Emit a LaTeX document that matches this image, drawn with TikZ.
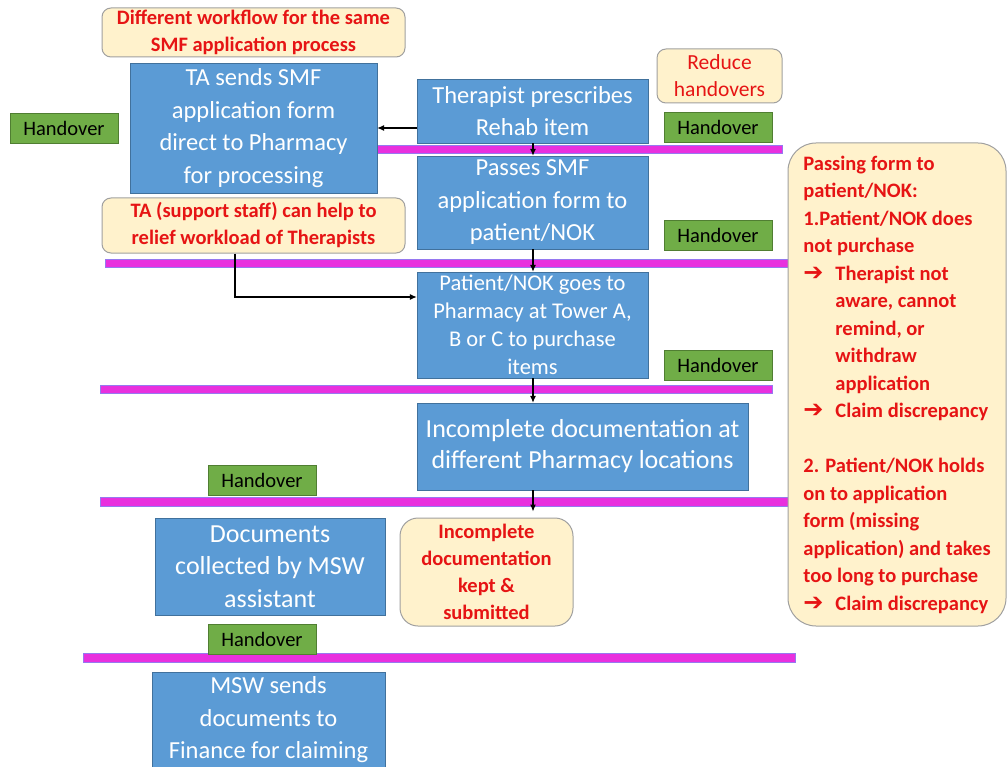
\documentclass[tikz,border=0pt]{standalone}
\usepackage{fontspec}
\setmainfont{Carlito}
\newfontfamily\arrowfont{DejaVu Sans}
\usetikzlibrary{arrows.meta,positioning,calc}
\definecolor{procblue}{RGB}{91,155,213}
\definecolor{procedge}{RGB}{65,113,156}
\definecolor{notefill}{RGB}{255,242,204}
\definecolor{noteedge}{RGB}{160,160,160}
\definecolor{hoverfill}{RGB}{112,173,71}
\definecolor{hoveredge}{RGB}{80,126,50}
\definecolor{barfill}{RGB}{232,48,222}
\definecolor{baredge}{RGB}{150,120,240}
\definecolor{notered}{RGB}{230,20,20}
\newcommand{\pointer}{\makebox[32pt][l]{\arrowfont\fontsize{24}{24}\selectfont ➔}}
\newcommand{\hang}{\hspace*{32pt}}

\begin{document}
\begin{tikzpicture}[x=1pt,y=-1pt,
  proc/.style={draw=procedge,fill=procblue,text=white,align=center,inner sep=0pt,
    font=\fontsize{24.5}{32.5}\selectfont},
  note/.style={draw=noteedge,fill=notefill,text=notered,rounded corners=9pt,align=center,
    inner sep=0pt,line width=1pt,font=\bfseries\fontsize{20.5}{27}\selectfont},
  hover/.style={draw=hoveredge,fill=hoverfill,minimum width=108pt,minimum height=30pt,
    inner sep=0pt,line width=0.8pt,font=\fontsize{20.5}{22}\selectfont},
  bar/.style={draw=baredge,fill=barfill,line width=0.6pt},
  flow/.style={-{Latex[length=7pt,width=6pt]},line width=1.1pt}]
  \useasboundingbox (0,0) rectangle (1008,767);
  \coordinate (spine) at (533,0);

  % handover bars
  \draw[bar] (377,145) rectangle (782,153);
  \draw[bar] (105,259) rectangle (790,267);
  \draw[bar] (100,385) rectangle (772,393);
  \draw[bar] (100,497) rectangle (790,506);
  \draw[bar] (83,653) rectangle (795,662);

  % process steps
  \node[proc,minimum width=247pt,minimum height=130pt] (ta) at (253.5,128)
    {TA sends SMF\\application form\\direct to Pharmacy\\for processing};
  \node[proc,minimum width=231pt,minimum height=64pt] (ther) at (532.5,111)
    {Therapist prescribes\\Rehab item};
  \node[proc,minimum width=231pt,minimum height=93pt] (pass) at (532.5,202.5)
    {Passes SMF\\application form to\\patient/NOK};
  \node[proc,minimum width=231pt,minimum height=106pt,font=\fontsize{22.5}{28}\selectfont] (pat) at (532.5,325)
    {Patient/NOK goes to\\Pharmacy at Tower A,\\B or C to purchase\\items};
  \node[proc,minimum width=331pt,minimum height=87pt,font=\fontsize{26}{31}\selectfont] (incdoc) at (582.5,446.5)
    {Incomplete documentation at\\different Pharmacy locations};
  \node[proc,minimum width=230pt,minimum height=97pt,font=\fontsize{26}{32.5}\selectfont] (coll) at (270,566.5)
    {Documents\\collected by MSW\\assistant};
  \node[proc,minimum width=233pt,minimum height=96pt] (msw) at (268.5,720)
    {MSW sends\\documents to\\Finance for claiming};

  % remarks
  \node[note,minimum width=303pt,minimum height=49pt] (wfnote) at (253.5,32.5)
    {Different workflow for the same\\SMF application process};
  \node[note,minimum width=303pt,minimum height=55pt] (tanote) at (253.5,225.5)
    {TA (support staff) can help to\\relief workload of Therapists};
  \node[note,minimum width=125pt,minimum height=54pt,font=\fontsize{21.5}{27}\selectfont] (rednote) at (719.5,76)
    {Reduce\\handovers};
  \node[note,minimum width=173pt,minimum height=108pt,rounded corners=18pt] (keptnote) at (486.5,572)
    {Incomplete\\documentation\\kept \&\\submitted};
  \node[note,align=left,minimum width=218pt,minimum height=483pt,rounded corners=28pt,
    font=\bfseries\fontsize{20.5}{27.5}\selectfont] (risk) at (897,384.5)
    {Passing form to\\patient/NOK:\\1.Patient/NOK does\\not purchase\\
     \pointer Therapist not\\\hang aware, cannot\\\hang remind, or\\\hang withdraw\\\hang application\\
     \pointer Claim discrepancy\\[27.5pt]
     2. Patient/NOK holds\\on to application\\form (missing\\application) and takes\\too long to purchase\\
     \pointer Claim discrepancy};

  % handover tags
  \node[hover] (h1) at (64,128) {Handover};
  \node[hover] (h2) at (718,127) {Handover};
  \node[hover] (h3) at (718,235) {Handover};
  \node[hover] (h4) at (718,365) {Handover};
  \node[hover] (h5) at (262,480) {Handover};
  \node[hover] (h6) at (262,639) {Handover};

  % flow
  \draw[flow] ([yshift=-17pt]ther.west) -- ([yshift=-17pt]ther.west -| ta.east);
  \draw[flow] (ther.south -| spine) -- (pass.north -| spine);
  \draw[flow] (pass.south -| spine) -- (pat.north -| spine);
  \draw[flow] ([xshift=-18.5pt]tanote.south) |- ([yshift=28pt]pat.west);
  \draw[flow] (pat.south -| spine) -- (incdoc.north -| spine);
  \draw[flow] (incdoc.south -| spine) -- ([yshift=6pt]keptnote.north -| spine);
\end{tikzpicture}
\end{document}
